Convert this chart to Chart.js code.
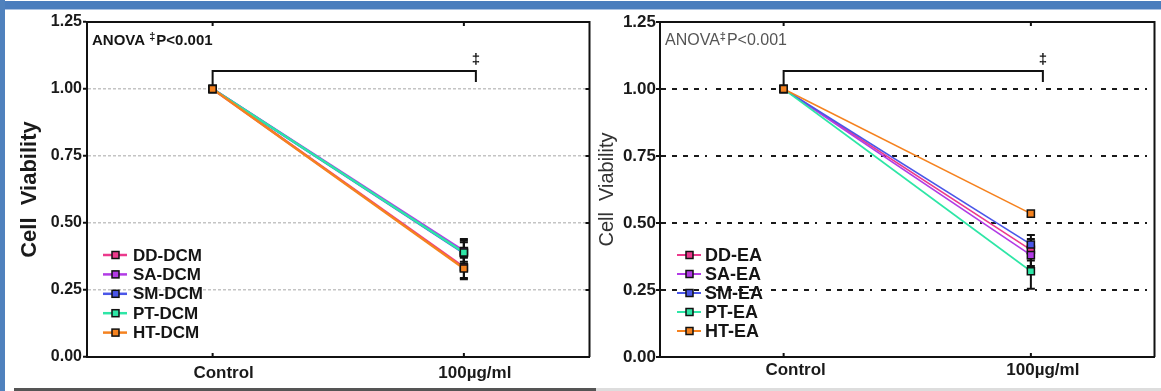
<!DOCTYPE html>
<html>
<head>
<meta charset="utf-8">
<script src="https://cdn.jsdelivr.net/npm/chart.js@4.4.0/dist/chart.umd.min.js"></script>
<style>
  html, body { margin: 0; padding: 0; background: #fff; }
  body { width: 1161px; height: 391px; position: relative; overflow: hidden; }
  #topbar { position: absolute; left: 0; top: 1px; width: 1161px; height: 8px; background: #4a7dbd; border-bottom: 1px solid #a9c1e2; }
  #leftbar { position: absolute; left: 0; top: 0; width: 5px; height: 391px; background: #4f81bd; }
  #botLeft { position: absolute; left: 14px; top: 388px; width: 582px; height: 3px; background: #555; }
  #botRight { position: absolute; left: 596px; top: 388px; width: 565px; height: 3px; background: #ddd; }
  .wrap { position: absolute; top: 8px; height: 381px; }
  #w1 { left: 5px; width: 591px; }
  #w2 { left: 596px; width: 565px; }
</style>
</head>
<body>
<div id="topbar"></div>
<div id="leftbar"></div>
<div class="wrap" id="w1"><canvas id="dcmChart" width="591" height="381"></canvas></div>
<div class="wrap" id="w2"><canvas id="eaChart" width="565" height="381"></canvas></div>
<div id="botLeft"></div>
<div id="botRight"></div>
<script>
// ---- data ----
const categories = ['Control', '100\u00b5g/ml'];

const dcmNames = ['DD-DCM', 'SA-DCM', 'SM-DCM', 'PT-DCM', 'HT-DCM'];
const dcmControl = [1.00, 1.00, 1.00, 1.00, 1.00];
const dcm100 = [0.335, 0.395, 0.388, 0.39, 0.33];
const dcmErr100 = [0.04, 0.04, 0.04, 0.05, 0.04];

const eaNames = ['DD-EA', 'SA-EA', 'SM-EA', 'PT-EA', 'HT-EA'];
const eaControl = [1.00, 1.00, 1.00, 1.00, 1.00];
const ea100 = [0.40, 0.38, 0.42, 0.32, 0.535];
const eaErr100 = [0.04, 0.04, 0.035, 0.065, 0.01];

const yMin = 0, yMax = 1.25, yStep = 0.25;

// ---- styles ----
const seriesColors = ['#ec3a8c', '#b23be6', '#4a56e8', '#2ee6a6', '#f5821f'];
const drawOrder = [4, 3, 2, 1, 0];
const FONT = '"Liberation Sans", Arial, sans-serif';

function buildDatasets(names, control, at100, errs, lw) {
  return names.map((n, i) => ({
    label: n,
    data: [control[i], at100[i]],
    errors: [0, errs[i]],
    borderColor: seriesColors[i],
    backgroundColor: seriesColors[i],
    pointBackgroundColor: seriesColors[i],
    pointBorderColor: '#111',
    pointBorderWidth: 1.5,
    pointStyle: 'rect',
    pointRadius: 5,
    borderWidth: lw,
    order: drawOrder[i],
    tension: 0
  }));
}

function notesPlugin(cfg) {
  return {
    id: 'notes',
    beforeDatasetsDraw(chart) {
      const { ctx, chartArea: a, scales: { x, y } } = chart;
      ctx.save();
      ctx.strokeStyle = '#111';
      ctx.lineWidth = 2;
      ctx.beginPath();
      ctx.moveTo(a.left, a.top);
      ctx.lineTo(a.right, a.top);
      ctx.lineTo(a.right, a.bottom);
      // inward ticks
      categories.forEach((c, i) => {
        const px = x.getPixelForValue(i);
        ctx.moveTo(px, a.top); ctx.lineTo(px, a.top + 4);
        ctx.moveTo(px, a.bottom); ctx.lineTo(px, a.bottom - 4);
      });
      if (cfg.rightTicks) {
        for (let v = yStep; v < yMax - 0.01; v += yStep) {
          const py = y.getPixelForValue(v);
          ctx.moveTo(a.right, py); ctx.lineTo(a.right - 4, py);
        }
      }
      ctx.stroke();

      // error bars
      ctx.lineWidth = 2;
      chart.data.datasets.forEach((ds, i) => {
        const meta = chart.getDatasetMeta(i);
        ds.errors.forEach((e, j) => {
          if (!e) return;
          const px = meta.data[j].x;
          const t = y.getPixelForValue(ds.data[j] + e);
          const b = y.getPixelForValue(ds.data[j] - e);
          ctx.beginPath();
          ctx.moveTo(px, t); ctx.lineTo(px, b);
          ctx.moveTo(px - 4, t); ctx.lineTo(px + 4, t);
          ctx.moveTo(px - 4, b); ctx.lineTo(px + 4, b);
          ctx.stroke();
        });
      });
      ctx.restore();
    },
    afterDatasetsDraw(chart) {
      const { ctx, chartArea: a, scales: { x, y } } = chart;
      ctx.save();
      // ANOVA note
      ctx.fillStyle = cfg.anovaColor;
      ctx.textBaseline = 'alphabetic';
      ctx.textAlign = 'left';
      let tx = a.left + cfg.anovaX;
      const ty = a.top + 23;
      ctx.font = cfg.anovaFont;
      ctx.fillText('ANOVA' + cfg.anovaGap, tx, ty);
      tx += ctx.measureText('ANOVA' + cfg.anovaGap).width;
      ctx.font = cfg.supFont;
      ctx.fillText('\u2021', tx, ty - 5);
      tx += ctx.measureText('\u2021').width + 1;
      ctx.font = cfg.anovaFont;
      ctx.fillText('P<0.001', tx, ty);

      // significance bracket
      const x0 = x.getPixelForValue(0);
      const x1 = x.getPixelForValue(1) + cfg.bracketShift;
      const yTop = y.getPixelForValue(1.067);
      ctx.strokeStyle = '#111';
      ctx.lineWidth = 2;
      ctx.beginPath();
      ctx.moveTo(x0, y.getPixelForValue(1.0) - 3);
      ctx.lineTo(x0, yTop);
      ctx.lineTo(x1, yTop);
      ctx.lineTo(x1, y.getPixelForValue(1.026));
      ctx.stroke();
      ctx.fillStyle = '#111';
      ctx.font = 'bold 15px ' + FONT;
      ctx.textAlign = 'center';
      ctx.textBaseline = 'middle';
      ctx.fillText('\u2021', x1, y.getPixelForValue(1.11));

      // legend
      ctx.textAlign = 'left';
      ctx.font = cfg.legendFont;
      chart.data.datasets.forEach((ds, i) => {
        const ly = a.top + 233 + i * cfg.legendStep;
        ctx.strokeStyle = ds.borderColor;
        ctx.lineWidth = cfg.legendLine;
        ctx.beginPath();
        ctx.moveTo(a.left + cfg.legendX, ly);
        ctx.lineTo(a.left + cfg.legendX + 24, ly);
        ctx.stroke();
        const mx = a.left + cfg.legendX + 12.5;
        ctx.fillStyle = ds.borderColor;
        ctx.fillRect(mx - 3.5, ly - 3.5, 7, 7);
        ctx.strokeStyle = '#111';
        ctx.lineWidth = 1.5;
        ctx.strokeRect(mx - 3.5, ly - 3.5, 7, 7);
        ctx.fillStyle = '#151515';
        ctx.fillText(ds.label, a.left + cfg.legendX + cfg.legendTextGap, ly + 1);
      });
      ctx.restore();
    }
  };
}

function makeChart(id, datasets, cfg) {
  return new Chart(document.getElementById(id), {
    type: 'line',
    data: { labels: categories, datasets: datasets },
    options: {
      responsive: false,
      animation: false,
      devicePixelRatio: 1,
      layout: { padding: { top: 14, right: cfg.padRight, left: 0, bottom: 0 } },
      plugins: { legend: { display: false }, tooltip: { enabled: false } },
      scales: {
        x: {
          type: 'category',
          offset: true,
          afterFit: s => { s.height = 32; },
          grid: { display: false, drawTicks: false },
          border: { display: true, color: '#111', width: 2 },
          ticks: {
            color: '#1a1a1a', font: cfg.xFont, padding: cfg.xPad,
            labelOffset: cfg.xShift, maxRotation: 0, autoSkip: false
          }
        },
        y: {
          min: yMin, max: yMax,
          afterFit: s => { s.width = cfg.yWidth; },
          ticks: {
            stepSize: yStep, color: '#1a1a1a', font: cfg.yFont, padding: cfg.yPad,
            callback: v => Number(v).toFixed(2)
          },
          grid: {
            color: c => (c.tick && c.tick.value > 0.01 && c.tick.value < yMax - 0.01) ? cfg.gridColor : 'rgba(0,0,0,0)',
            lineWidth: cfg.gridWidth,
            tickColor: '#111', tickLength: 4, tickWidth: 2
          },
          border: { display: true, color: '#111', width: 2, dash: cfg.gridDash },
          title: {
            display: true, text: 'Cell  Viability', color: cfg.titleColor,
            font: cfg.titleFont, padding: { top: cfg.titlePad, bottom: 0 }
          }
        }
      }
    },
    plugins: [notesPlugin(cfg)]
  });
}

makeChart('dcmChart', buildDatasets(dcmNames, dcmControl, dcm100, dcmErr100, 2.5), {
  padRight: 5, yWidth: 82, yPad: 1,
  yFont: { family: FONT, size: 16, weight: 'bold' },
  xFont: { family: FONT, size: 17, weight: 'bold' }, xPad: 6, xShift: 11,
  gridColor: '#c4c4c4', gridWidth: 1.5, gridDash: [3, 2],
  titleColor: '#1a1a1a', titleFont: { family: FONT, size: 22, weight: 'bold', lineHeight: 1.2 }, titlePad: 12,
  rightTicks: true,
  anovaX: 5, anovaGap: ' ', anovaColor: '#151515',
  anovaFont: 'bold 15px ' + FONT, supFont: 'bold 11px ' + FONT,
  bracketShift: 12,
  legendX: 16, legendStep: 19.4, legendLine: 2.5, legendTextGap: 30,
  legendFont: 'bold 17px ' + FONT
});

makeChart('eaChart', buildDatasets(eaNames, eaControl, ea100, eaErr100, 1.6), {
  padRight: 1, yWidth: 64, yPad: 0,
  yFont: { family: FONT, size: 17, weight: 'bold' },
  xFont: { family: FONT, size: 17, weight: 'bold' }, xPad: 3, xShift: 12,
  gridColor: '#1a1a1a', gridWidth: 2, gridDash: [5, 6, 5, 6, 5, 6, 5, 6, 2, 9],
  titleColor: '#333', titleFont: { family: FONT, size: 20, weight: 'normal', lineHeight: 1.1 }, titlePad: 0,
  rightTicks: false,
  anovaX: 5, anovaGap: '', anovaColor: '#555',
  anovaFont: '16px ' + FONT, supFont: 'bold 11px ' + FONT,
  bracketShift: 12,
  legendX: 17, legendStep: 19, legendLine: 2, legendTextGap: 28,
  legendFont: 'bold 18px ' + FONT
});
</script>
</body>
</html>
